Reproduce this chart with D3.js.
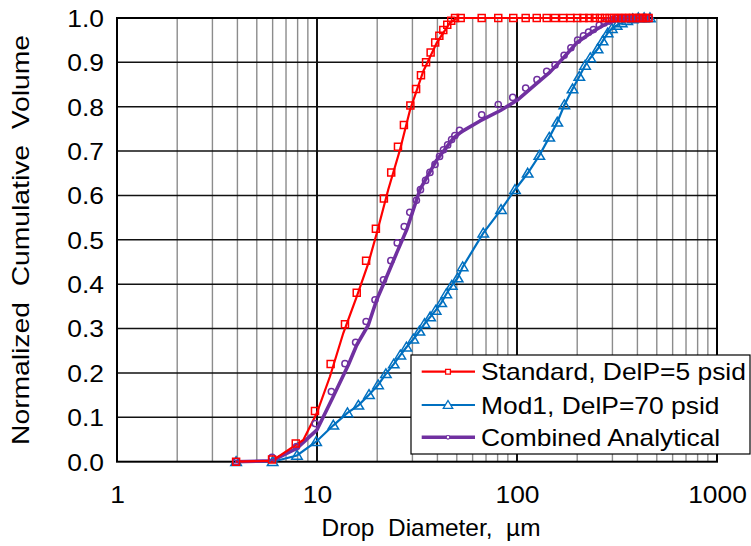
<!DOCTYPE html>
<html><head><meta charset="utf-8">
<script src="https://cdn.jsdelivr.net/npm/d3@7/dist/d3.min.js"></script>
<style>
html,body{margin:0;padding:0;background:#fff;}
svg{display:block;font-family:"Liberation Sans",Arial,sans-serif;}
text{white-space:pre;}
</style></head>
<body>
<svg id="chart" width="751" height="546"></svg>
<script>
// ---- Data ----
const xTickLabels = [1, 10, 100, 1000];
const yTickLabels = [0, 0.1, 0.2, 0.3, 0.4, 0.5, 0.6, 0.7, 0.8, 0.9, 1.0];
const seriesNames = ["Standard, DelP=5 psid", "Mod1, DelP=70 psid", "Combined Analytical"];

// Standard, DelP=5 psid — markers
const stdD = [3.94,5.96,7.83,9.77,11.7,13.8,15.8,17.6,19.7,21.6,23.5,25.4,27.2,29.3,31.3,33.1,35.1,37,39,40.9,42.8,44.8,46.9,49,52.3,66.6,80.6,95.8,110.5,125.5,140.8,155,170,185,200,215,230,245,260,275,290,305,320,335,350,365,380,395,410,425,440,455];
const stdV = [0,0.005,0.041,0.114,0.22,0.31,0.381,0.453,0.525,0.593,0.652,0.71,0.759,0.803,0.84,0.871,0.9,0.922,0.945,0.96,0.973,0.985,0.994,1,1,1,1,1,1,1,1,1,1,1,1,1,1,1,1,1,1,1,1,1,1,1,1,1,1,1,1,1];
// Standard — line
const stdLineD = [3.94,5.96,8.54,9.97,11.61,13.54,15.8,18.05,19.9,22.7,26,29.2,34,39.7,46.2,49.9,462];
const stdLineV = [0,0.002,0.049,0.109,0.192,0.29,0.372,0.447,0.515,0.613,0.703,0.793,0.88,0.944,0.989,1,1];

// Mod1, DelP=70 psid — markers and line
const modD = [3.94,6,7.94,9.9,12.07,14.2,16.1,18.2,20.2,22.1,24.2,26.1,28,30.3,32.5,34.5,36.8,39.2,41.8,44.3,47.2,50.5,53.5,67.8,83.2,97.7,113.1,129.3,145,159,172.5,189.5,204.9,219,232.5,253,268,284,298,315,334,356,379,404,432,462];
const modV = [0,0,0.014,0.045,0.082,0.11,0.127,0.151,0.173,0.198,0.22,0.24,0.258,0.276,0.294,0.311,0.326,0.341,0.358,0.378,0.397,0.414,0.439,0.515,0.568,0.613,0.65,0.69,0.731,0.765,0.804,0.84,0.868,0.893,0.91,0.93,0.948,0.966,0.976,0.983,0.989,0.994,0.998,1,1,1];

// Combined Analytical — markers
const combD = [3.94,5.96,7.9,9.8,11.8,13.8,15.6,17.6,19.5,21.5,23.4,25.2,27.3,29.1,31.4,32.9,34.9,36.7,38.9,41,42.9,45,47.1,48.9,51.6,66.6,80.6,95.2,110.5,125.9,140.8,155,172,186,201,215,228,241,258,273,289,303,320,335,350,365,380,395,410,425,440,455];
const combV = [0,0.01,0.034,0.086,0.158,0.221,0.269,0.316,0.365,0.41,0.453,0.493,0.53,0.562,0.589,0.613,0.634,0.652,0.67,0.688,0.703,0.714,0.726,0.735,0.747,0.782,0.805,0.821,0.842,0.861,0.88,0.894,0.916,0.933,0.95,0.96,0.968,0.974,0.984,0.989,0.993,0.997,1,1,1,1,1,1,1,1,1,1];
// Combined Analytical — line
const combLineD = [3.89,5.93,7.92,9.97,12.06,14.34,15.8,18.05,19.89,22.3,25,28.1,32.7,39.7,48,52.9,65.3,82.2,99.7,120.6,146.2,170.4,198.9,240.7,291.7,353.6,462];
const combLineV = [0,0.002,0.03,0.071,0.147,0.218,0.263,0.308,0.365,0.417,0.47,0.523,0.613,0.68,0.729,0.744,0.768,0.791,0.814,0.846,0.878,0.91,0.944,0.97,0.992,1,1];

const colors = ["#FF0000", "#0070C0", "#7030A0"];

// ---- Layout ----
const L = 117, R = 717, T = 18, B = 461.7;
const FS = 24, STRETCH = 1.1;
const svg = d3.select("#chart");
const x = d3.scaleLog().domain([1, 1000]).range([L, R]);
const y = d3.scaleLinear().domain([0, 1]).range([B, T]);

function stretch(sel, target) {
  sel.each(function () {
    const len = this.getComputedTextLength();
    d3.select(this).attr("textLength", target || len * STRETCH).attr("lengthAdjust", "spacingAndGlyphs");
  });
}

// grid
const minor = [];
[1, 10, 100].forEach(dec => { for (let k = 2; k <= 9; k++) minor.push(dec * k); });
const g = svg.append("g");
g.selectAll(".minor").data(minor).enter().append("line")
  .attr("x1", d => x(d)).attr("x2", d => x(d)).attr("y1", T).attr("y2", B)
  .attr("stroke", "#8c8c8c").attr("stroke-width", 1.4);
g.selectAll(".hgrid").data(yTickLabels.slice(1, -1)).enter().append("line")
  .attr("x1", L).attr("x2", R).attr("y1", d => y(d)).attr("y2", d => y(d))
  .attr("stroke", "#111").attr("stroke-width", 1.5);
g.selectAll(".major").data([10, 100]).enter().append("line")
  .attr("x1", d => x(d)).attr("x2", d => x(d)).attr("y1", T).attr("y2", B)
  .attr("stroke", "#111").attr("stroke-width", 2);
svg.append("rect").attr("x", L).attr("y", T).attr("width", R - L).attr("height", B - T)
  .attr("fill", "none").attr("stroke", "#000").attr("stroke-width", 2);

// axes
const xAxis = svg.append("g").attr("transform", `translate(0,${B})`)
  .call(d3.axisBottom(x).tickValues(xTickLabels).tickSize(0).tickFormat(d3.format("d")));
xAxis.select(".domain").remove();
xAxis.selectAll("text").attr("y", 41).attr("dy", 0).attr("font-size", FS)
  .attr("font-family", "Liberation Sans, Arial, sans-serif").attr("fill", "#000");
stretch(xAxis.selectAll("text"));

const yAxis = svg.append("g").attr("transform", `translate(${L},0)`)
  .call(d3.axisLeft(y).tickValues(yTickLabels).tickSize(0).tickFormat(d3.format(".1f")));
yAxis.select(".domain").remove();
yAxis.selectAll("text").attr("x", -13).attr("dy", "0.35em").attr("font-size", FS)
  .attr("font-family", "Liberation Sans, Arial, sans-serif").attr("fill", "#000");
stretch(yAxis.selectAll("text"));

svg.append("text").attr("x", 431).attr("y", 536).attr("text-anchor", "middle")
  .attr("font-size", FS).text("Drop  Diameter,  µm").call(s => stretch(s, 219));
svg.append("text").attr("transform", "translate(29,240) rotate(-90)").attr("text-anchor", "middle")
  .attr("font-size", FS).text("Normalized  Cumulative  Volume").call(s => stretch(s, 410));

// series
const line = d3.line().x(d => x(d[0])).y(d => y(d[1]));
const zip = (a, b) => a.map((v, i) => [v, b[i]]);
const plot = svg.append("g");

function sqPath(s) { return `M${-s},${-s}H${s}V${s}H${-s}Z`; }
function triPath(s) { return `M0,${-s}L${s*1.05},${s*0.75}L${-s*1.05},${s*0.75}Z`; }

plot.append("path").datum(zip(modD, modV)).attr("d", line)
  .attr("fill", "none").attr("stroke", colors[1]).attr("stroke-width", 2.2);
plot.append("path").datum(zip(combLineD, combLineV)).attr("d", line)
  .attr("fill", "none").attr("stroke", colors[2]).attr("stroke-width", 3.6).attr("stroke-linejoin", "round");
plot.append("path").datum(zip(stdLineD, stdLineV)).attr("d", line)
  .attr("fill", "none").attr("stroke", colors[0]).attr("stroke-width", 2.2);

plot.selectAll(".tri").data(zip(modD, modV)).enter().append("path")
  .attr("transform", d => `translate(${x(d[0])},${y(d[1])})`).attr("d", triPath(5))
  .attr("fill", "none").attr("stroke", colors[1]).attr("stroke-width", 1.5);
plot.selectAll(".circ").data(zip(combD, combV)).enter().append("circle")
  .attr("cx", d => x(d[0])).attr("cy", d => y(d[1])).attr("r", 3.1)
  .attr("fill", "none").attr("stroke", colors[2]).attr("stroke-width", 1.5);
plot.selectAll(".sq").data(zip(stdD, stdV)).enter().append("path")
  .attr("transform", d => `translate(${x(d[0])},${y(d[1])})`).attr("d", sqPath(3.5))
  .attr("fill", "none").attr("stroke", colors[0]).attr("stroke-width", 1.5);

// legend
const lg = svg.append("g");
lg.append("rect").attr("x", 411).attr("y", 355).attr("width", 339).attr("height", 99)
  .attr("fill", "#fff").attr("stroke", "#000").attr("stroke-width", 1.2);
const rows = [371.7, 405, 437.3];
const lw = [2.2, 2.2, 3.6];
seriesNames.forEach((name, i) => {
  lg.append("line").attr("x1", 421.7).attr("x2", 475).attr("y1", rows[i]).attr("y2", rows[i])
    .attr("stroke", colors[i]).attr("stroke-width", lw[i]);
  if (i === 0) lg.append("path").attr("transform", `translate(448,${rows[i]})`).attr("d", sqPath(2.4))
    .attr("fill", "#fff").attr("stroke", colors[0]).attr("stroke-width", 1.3);
  if (i === 1) lg.append("path").attr("transform", `translate(448,${rows[i]})`).attr("d", triPath(4.5))
    .attr("fill", "#fff").attr("stroke", colors[1]).attr("stroke-width", 1.3);
  if (i === 2) lg.append("circle").attr("cx", 448).attr("cy", rows[i]).attr("r", 1.8)
    .attr("fill", "#fff").attr("stroke", colors[2]).attr("stroke-width", 1.2);
  lg.append("text").attr("x", 481).attr("y", rows[i]).attr("dy", "0.36em")
    .attr("font-size", FS).text(name).call(s => stretch(s));
});
</script>
</body></html>
